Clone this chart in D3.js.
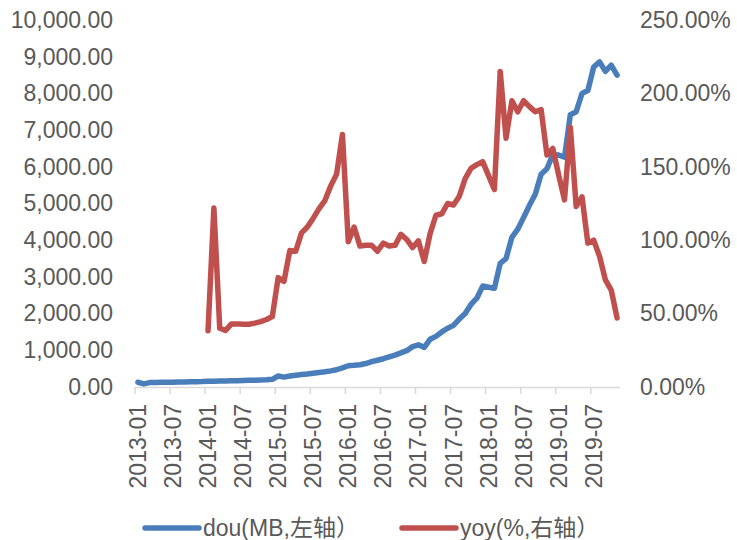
<!DOCTYPE html>
<html>
<head>
<meta charset="utf-8">
<script src="https://cdn.jsdelivr.net/npm/d3@7"></script>
<style>
  html, body { margin: 0; padding: 0; background: #fff; }
  svg text { font-family: "Liberation Sans", Arial, "Noto Sans CJK SC", sans-serif; fill: #595959; }
</style>
</head>
<body>
<svg id="chart" width="737" height="540"></svg>
<script>
// Monthly categories, 2013-01 .. 2019-11
const months = d3.utcMonth.range(new Date(Date.UTC(2013, 0, 1)), new Date(Date.UTC(2019, 11, 1)))
  .map(d3.utcFormat("%Y-%m"));

// Monthly volume (MB), left axis
const dou = [
  130, 85, 120, 125, 128, 130, 132, 135, 138, 140, 143, 147,
  155, 160, 163, 166, 170, 173, 177, 181, 185, 190, 195, 210,
  300, 270, 300, 320, 340, 355, 375, 395, 415, 440, 470, 520,
  580, 590, 605, 640, 690, 730, 770, 820, 870, 930, 990, 1100,
  1150, 1080, 1300, 1380, 1500, 1600, 1680, 1850, 2000, 2250, 2420, 2750,
  2720, 2690, 3370, 3500, 4080, 4300, 4620, 4950, 5250, 5800, 5950, 6330,
  6320, 6260, 7420, 7500, 8000, 8080, 8720, 8860, 8600, 8770, 8500
];

// Year-over-year growth (%), right axis; no value for the first year
const yoy = [
  null, null, null, null, null, null, null, null, null, null, null, null,
  38.4, 122, 40, 38.5, 43, 43, 42.8, 42.7, 43.5, 44.5, 46, 48,
  74.5, 72, 93, 92.5, 105, 109, 115, 121.5, 127, 137, 145, 172,
  99, 109, 96, 96.5, 96.5, 92.5, 98, 96, 96.5, 104, 100.5, 95,
  99.5, 85.5, 104.5, 117, 118, 125, 124, 130, 142, 149, 151.5, 153.5,
  144, 134.5, 215, 169.5, 195, 187.5, 195, 191, 187.5, 189, 158, 162.5,
  144.5, 127.5, 177, 123, 129.5, 98, 100, 89, 73, 66, 47
];

const leftTicks = [0, 1000, 2000, 3000, 4000, 5000, 6000, 7000, 8000, 9000, 10000];
const rightTicks = [0, 50, 100, 150, 200, 250];
const seriesNames = ["dou(MB,左轴）", "yoy(%,右轴）"];
const colors = ["#4A7EBB", "#C0504D"];

const svg = d3.select("#chart");
const plot = { left: 135, right: 620, top: 20, bottom: 387 };
const fontSize = 23;

const x = d3.scaleBand().domain(months).range([plot.left, plot.right]).padding(0);
const yL = d3.scaleLinear().domain([0, 10000]).range([plot.bottom, plot.top]);
const yR = d3.scaleLinear().domain([0, 250]).range([plot.bottom, plot.top]);
const cx = m => x(m) + x.bandwidth() / 2;

// Left axis labels
const gL = svg.append("g").attr("transform", `translate(${plot.left - 22},0)`)
  .call(d3.axisLeft(yL).tickValues(leftTicks).tickSize(0).tickPadding(0).tickFormat(d3.format(",.2f")));
gL.select(".domain").remove();
gL.selectAll("text").style("font-size", fontSize + "px").attr("font-family", null);

// Right axis labels
const gR = svg.append("g").attr("transform", `translate(${plot.right + 20},0)`)
  .call(d3.axisRight(yR).tickValues(rightTicks).tickSize(0).tickPadding(0).tickFormat(d => d.toFixed(2) + "%"));
gR.select(".domain").remove();
gR.selectAll("text").style("font-size", fontSize + "px").attr("font-family", null);

// Category axis line and tick marks on category boundaries
const tickMonths = months.filter((m, i) => i % 6 === 0);
svg.append("line")
  .attr("x1", plot.left).attr("x2", plot.right)
  .attr("y1", plot.bottom + 0.5).attr("y2", plot.bottom + 0.5)
  .attr("stroke", "#d9d9d9").attr("stroke-width", 1.5);
svg.append("g").selectAll("line").data(tickMonths).join("line")
  .attr("x1", m => x(m)).attr("x2", m => x(m))
  .attr("y1", plot.bottom).attr("y2", plot.bottom + 7)
  .attr("stroke", "#d9d9d9").attr("stroke-width", 1.5);

// Rotated category labels
const gX = svg.append("g").attr("transform", `translate(0,${plot.bottom})`)
  .call(d3.axisBottom(x).tickValues(tickMonths).tickSize(0).tickPadding(0));
gX.select(".domain").remove();
gX.selectAll("text")
  .style("font-size", fontSize + "px").attr("font-family", null)
  .attr("text-anchor", "end")
  .attr("transform", "rotate(-90)")
  .attr("x", -17).attr("y", 0).attr("dy", "0.35em");

// Series lines
const lineDou = d3.line().x((d, i) => cx(months[i])).y(d => yL(d));
const lineYoy = d3.line().defined(d => d != null).x((d, i) => cx(months[i])).y(d => yR(d));

svg.append("path").datum(dou).attr("d", lineDou)
  .attr("fill", "none").attr("stroke", colors[0]).attr("stroke-width", 5.5)
  .attr("stroke-linejoin", "round").attr("stroke-linecap", "round");
svg.append("path").datum(yoy).attr("d", lineYoy)
  .attr("fill", "none").attr("stroke", colors[1]).attr("stroke-width", 5.5)
  .attr("stroke-linejoin", "round").attr("stroke-linecap", "round");

// Legend
const legendY = 528;
const legendX = [145, 402];
const lg = svg.append("g").selectAll("g").data(seriesNames).join("g")
  .attr("transform", (d, i) => `translate(${legendX[i]},${legendY})`);
lg.append("line").attr("x1", 0).attr("x2", 54).attr("y1", 0).attr("y2", 0)
  .attr("stroke", (d, i) => colors[i]).attr("stroke-width", 5.5).attr("stroke-linecap", "round");
lg.append("text").attr("x", 58).attr("y", 0).attr("dy", "0.35em")
  .style("font-size", fontSize + "px").text(d => d);
</script>
</body>
</html>
